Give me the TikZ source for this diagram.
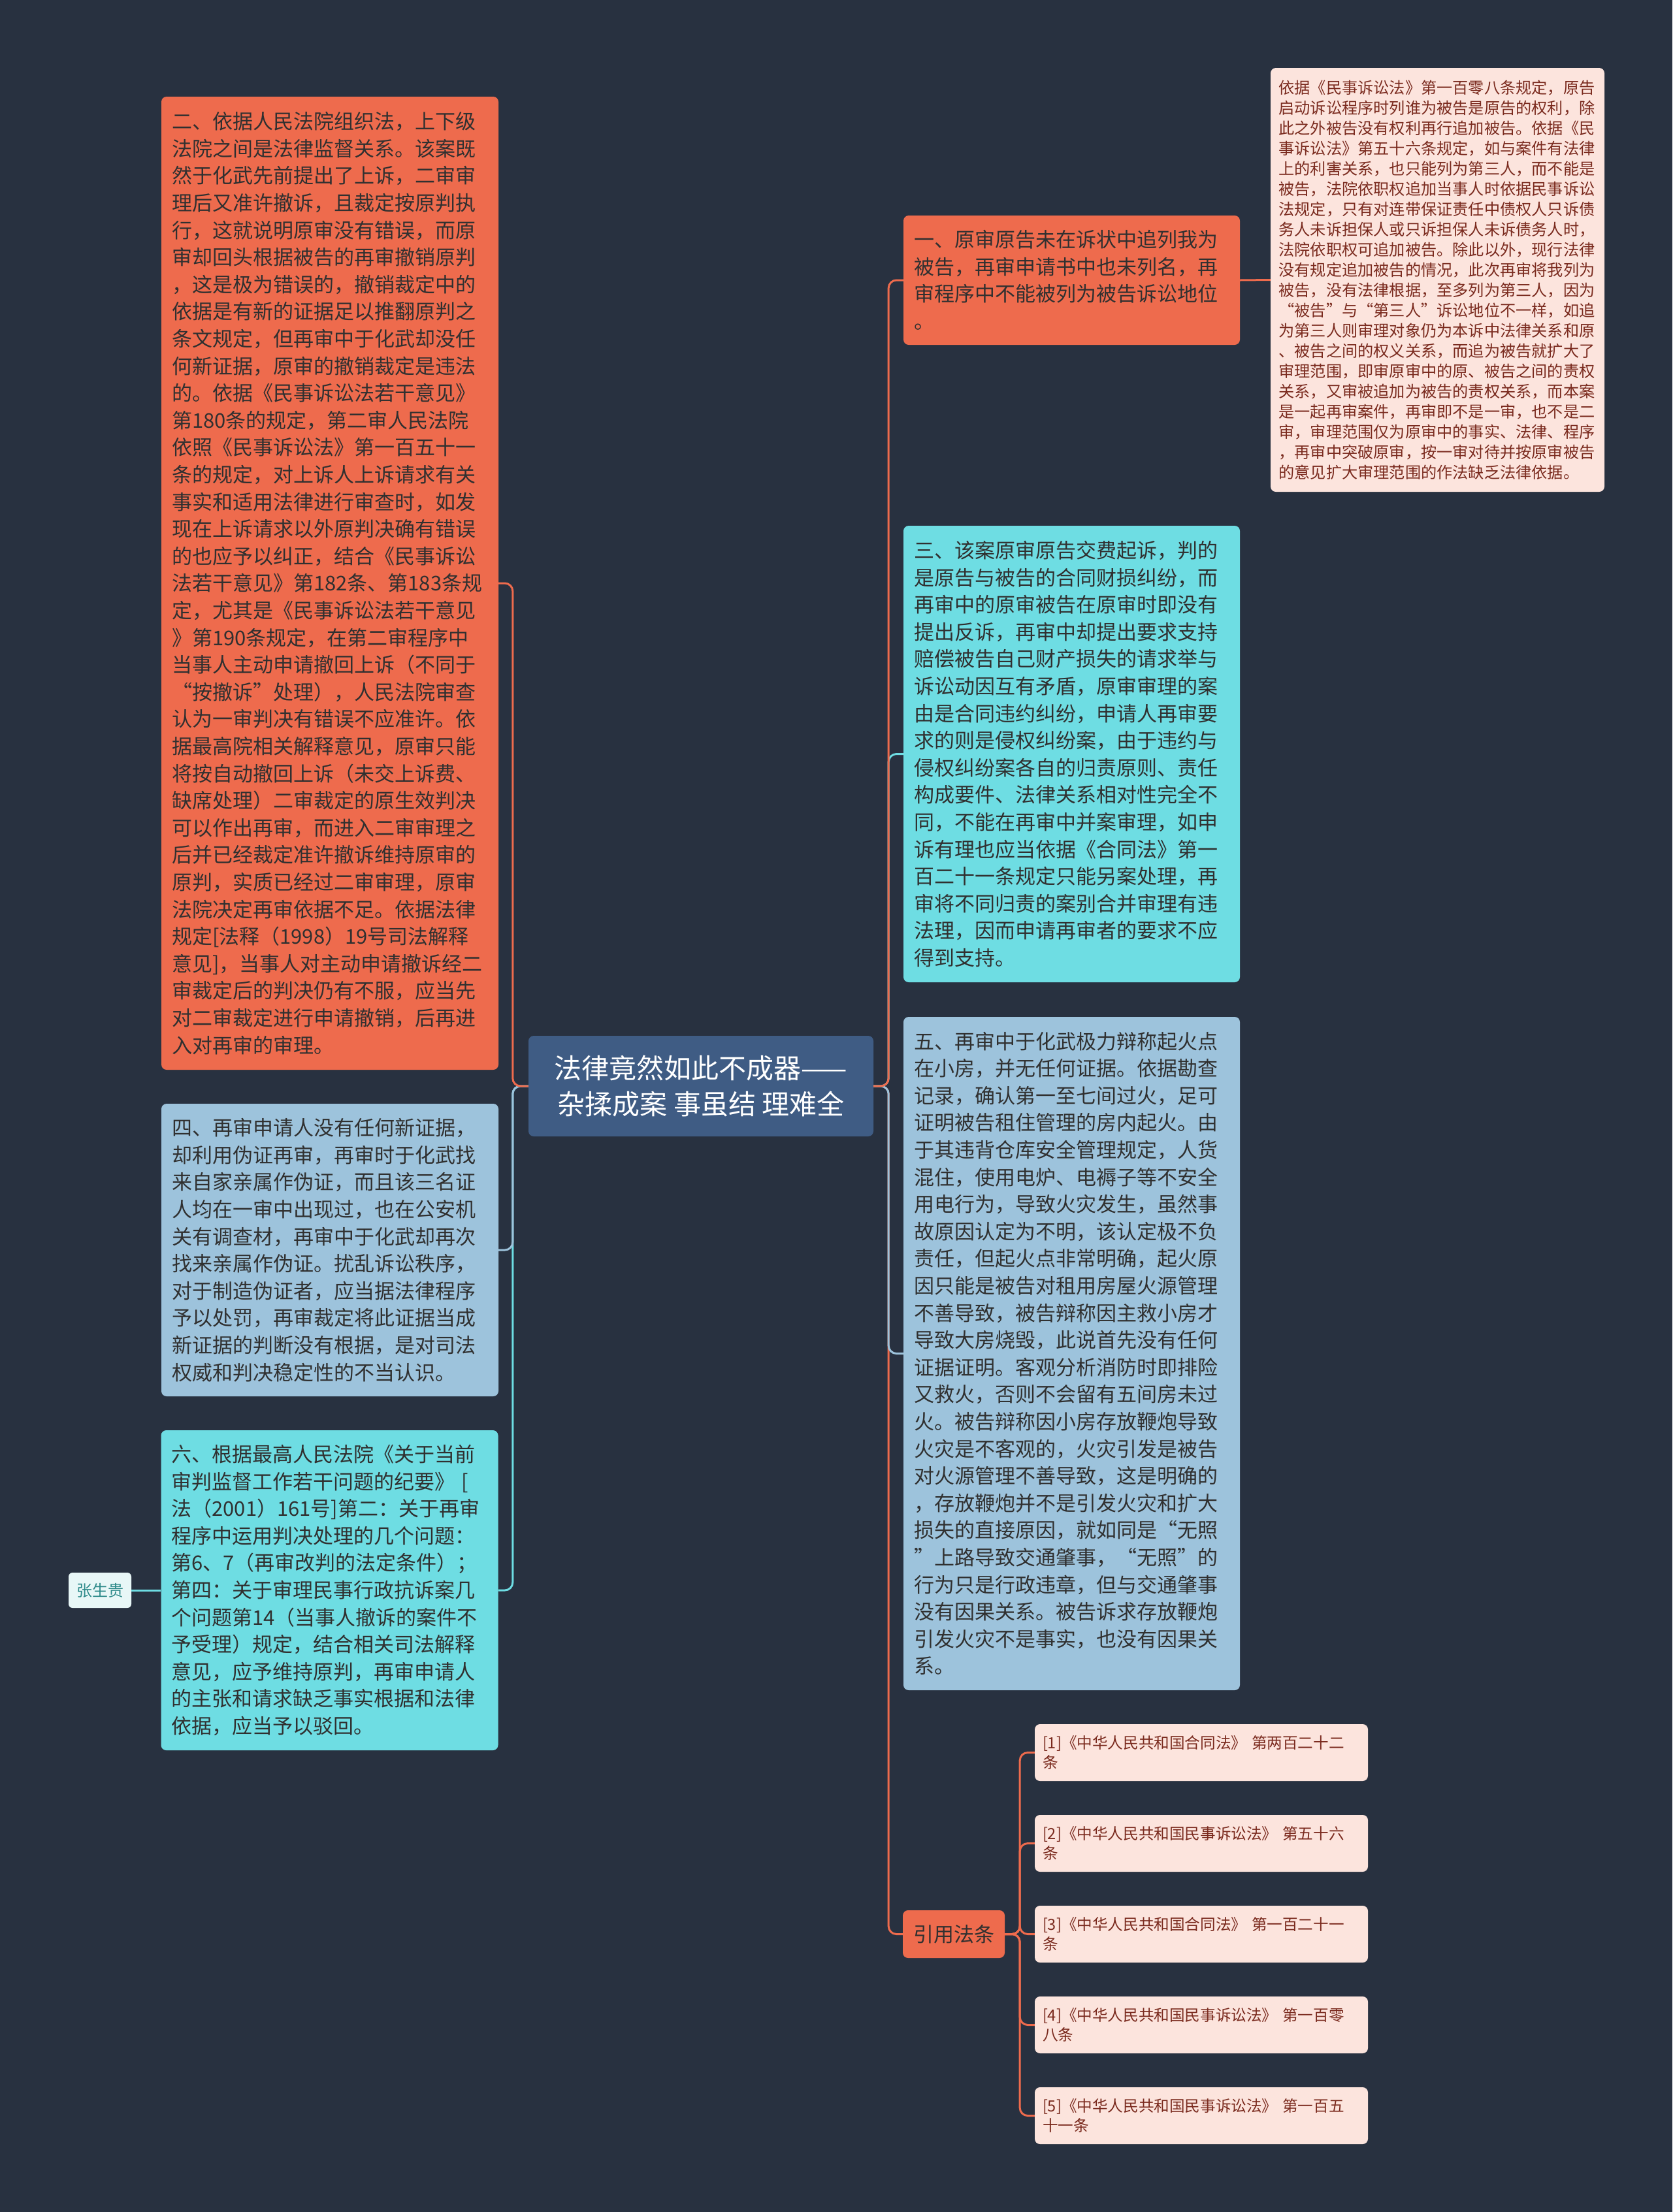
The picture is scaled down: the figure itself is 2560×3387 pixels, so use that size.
\documentclass[tikz,border=0pt]{standalone}
\usepackage{fontspec}
\setmainfont{Noto Sans CJK SC}
\usepackage{tikz}
\usepackage{xcolor}
\definecolor{bgc}{HTML}{283140}
\definecolor{orng}{HTML}{EE6B4D}
\definecolor{cyn}{HTML}{6EDDE3}
\definecolor{lblu}{HTML}{9DC3DC}
\definecolor{pnk}{HTML}{FCE4DD}
\definecolor{rootc}{HTML}{3F5C84}
\definecolor{dtxt}{HTML}{303030}
\definecolor{rtxt}{HTML}{7A2A1E}
\definecolor{tltxt}{HTML}{2D8A8A}
\definecolor{whc}{HTML}{E8F7F7}
\tikzset{
  box/.style={rounded corners=8pt, align=left, text=dtxt, inner xsep=16pt, inner ysep=0pt,
    font=\fontsize{31}{41.6}\selectfont, text width=484pt},
  smallbox/.style={rounded corners=8pt, align=left, fill=pnk, text=rtxt, inner xsep=12.5pt, inner ysep=0pt,
    font=\fontsize{24.2}{31}\selectfont, text width=486pt},
  link/.style={line width=3pt, rounded corners=12pt}
}

\begin{document}
\begin{tikzpicture}[x=1pt,y=1pt]
  \useasboundingbox (0,0) rectangle (2560,-3387);
  \fill[bgc] (0,0) rectangle (2560,-3387);
  \node[fill=rootc, text=white, rounded corners=8pt, align=center, font=\fontsize{42}{55}\selectfont,
    minimum width=528pt, minimum height=154pt, inner sep=0pt] (R) at (1073,-1663)
    {法律竟然如此不成器——\\杂揉成案 事虽结 理难全};
  \node[box, fill=orng, minimum height=198pt, text width=483pt] (A) at (1640.5,-429) {一、原审原告未在诉状中追列我为\\被告，再审申请书中也未列名，再\\审程序中不能被列为被告诉讼地位\\。};
  \node[box, fill=cyn, minimum height=699pt, text width=483pt] (B) at (1640.5,-1154.5) {三、该案原审原告交费起诉，判的\\是原告与被告的合同财损纠纷，而\\再审中的原审被告在原审时即没有\\提出反诉，再审中却提出要求支持\\赔偿被告自己财产损失的请求举与\\诉讼动因互有矛盾，原审审理的案\\由是合同违约纠纷，申请人再审要\\求的则是侵权纠纷案，由于违约与\\侵权纠纷案各自的归责原则、责任\\构成要件、法律关系相对性完全不\\同，不能在再审中并案审理，如申\\诉有理也应当依据《合同法》第一\\百二十一条规定只能另案处理，再\\审将不同归责的案别合并审理有违\\法理，因而申请再审者的要求不应\\得到支持。};
  \node[box, fill=lblu, minimum height=1031pt, text width=483pt] (C) at (1640.5,-2072.5) {五、再审中于化武极力辩称起火点\\在小房，并无任何证据。依据勘查\\记录，确认第一至七间过火，足可\\证明被告租住管理的房内起火。由\\于其违背仓库安全管理规定，人货\\混住，使用电炉、电褥子等不安全\\用电行为，导致火灾发生，虽然事\\故原因认定为不明，该认定极不负\\责任，但起火点非常明确，起火原\\因只能是被告对租用房屋火源管理\\不善导致，被告辩称因主救小房才\\导致大房烧毁，此说首先没有任何\\证据证明。客观分析消防时即排险\\又救火，否则不会留有五间房未过\\火。被告辩称因小房存放鞭炮导致\\火灾是不客观的，火灾引发是被告\\对火源管理不善导致，这是明确的\\，存放鞭炮并不是引发火灾和扩大\\损失的直接原因，就如同是“无照\\”上路导致交通肇事，“无照”的\\行为只是行政违章，但与交通肇事\\没有因果关系。被告诉求存放鞭炮\\引发火灾不是事实，也没有因果关\\系。};
  \node[box, fill=orng, minimum height=1490pt] (D) at (505,-893) {二、依据人民法院组织法，上下级\\法院之间是法律监督关系。该案既\\然于化武先前提出了上诉，二审审\\理后又准许撤诉，且裁定按原判执\\行，这就说明原审没有错误，而原\\审却回头根据被告的再审撤销原判\\，这是极为错误的，撤销裁定中的\\依据是有新的证据足以推翻原判之\\条文规定，但再审中于化武却没任\\何新证据，原审的撤销裁定是违法\\的。依据《民事诉讼法若干意见》\\第180条的规定，第二审人民法院\\依照《民事诉讼法》第一百五十一\\条的规定，对上诉人上诉请求有关\\事实和适用法律进行审查时，如发\\现在上诉请求以外原判决确有错误\\的也应予以纠正，结合《民事诉讼\\法若干意见》第182条、第183条规\\定，尤其是《民事诉讼法若干意见\\》第190条规定，在第二审程序中\\当事人主动申请撤回上诉（不同于\\“按撤诉”处理），人民法院审查\\认为一审判决有错误不应准许。依\\据最高院相关解释意见，原审只能\\将按自动撤回上诉（未交上诉费、\\缺席处理）二审裁定的原生效判决\\可以作出再审，而进入二审审理之\\后并已经裁定准许撤诉维持原审的\\原判，实质已经过二审审理，原审\\法院决定再审依据不足。依据法律\\规定[法释（1998）19号司法解释\\意见]，当事人对主动申请撤诉经二\\审裁定后的判决仍有不服，应当先\\对二审裁定进行申请撤销，后再进\\入对再审的审理。};
  \node[box, fill=lblu, minimum height=448pt] (E) at (505,-1914) {四、再审申请人没有任何新证据，\\却利用伪证再审，再审时于化武找\\来自家亲属作伪证，而且该三名证\\人均在一审中出现过，也在公安机\\关有调查材，再审中于化武却再次\\找来亲属作伪证。扰乱诉讼秩序，\\对于制造伪证者，应当据法律程序\\予以处罚，再审裁定将此证据当成\\新证据的判断没有根据，是对司法\\权威和判决稳定性的不当认识。};
  \node[box, fill=cyn, minimum height=490pt] (F) at (504.5,-2435) {六、根据最高人民法院《关于当前\\审判监督工作若干问题的纪要》 [\\法（2001）161号]第二：关于再审\\程序中运用判决处理的几个问题：\\第6、7（再审改判的法定条件）；\\第四：关于审理民事行政抗诉案几\\个问题第14（当事人撤诉的案件不\\予受理）规定，结合相关司法解释\\意见，应予维持原判，再审申请人\\的主张和请求缺乏事实根据和法律\\依据，应当予以驳回。};
  \node[smallbox, minimum height=649pt] (G) at (2200.5,-428.5) {依据《民事诉讼法》第一百零八条规定，原告\\启动诉讼程序时列谁为被告是原告的权利，除\\此之外被告没有权利再行追加被告。依据《民\\事诉讼法》第五十六条规定，如与案件有法律\\上的利害关系，也只能列为第三人，而不能是\\被告，法院依职权追加当事人时依据民事诉讼\\法规定，只有对连带保证责任中债权人只诉债\\务人未诉担保人或只诉担保人未诉债务人时，\\法院依职权可追加被告。除此以外，现行法律\\没有规定追加被告的情况，此次再审将我列为\\被告，没有法律根据，至多列为第三人，因为\\“被告”与“第三人”诉讼地位不一样，如追\\为第三人则审理对象仍为本诉中法律关系和原\\、被告之间的权义关系，而追为被告就扩大了\\审理范围，即审原审中的原、被告之间的责权\\关系，又审被追加为被告的责权关系，而本案\\是一起再审案件，再审即不是一审，也不是二\\审，审理范围仅为原审中的事实、法律、程序\\，再审中突破原审，按一审对待并按原审被告\\的意见扩大审理范围的作法缺乏法律依据。};
  \node[fill=whc, text=tltxt, rounded corners=6pt, font=\fontsize{24}{30}\selectfont,
    minimum width=96pt, minimum height=54pt, inner sep=0pt] (H) at (153,-2435) {张生贵};
  \node[fill=orng, text=dtxt, rounded corners=8pt, font=\fontsize{31}{40}\selectfont,
    minimum width=156pt, minimum height=73pt, inner sep=0pt] (L) at (1460,-2961.5) {引用法条};
  \foreach \t [count=\i] in {{[1]《中华人民共和国合同法》 第两百二十二\\条},
      {[2]《中华人民共和国民事诉讼法》 第五十六\\条},
      {[3]《中华人民共和国合同法》 第一百二十一\\条},
      {[4]《中华人民共和国民事诉讼法》 第一百零\\八条},
      {[5]《中华人民共和国民事诉讼法》 第一百五\\十一条}}{
    \node[smallbox, font=\fontsize{23.6}{30.7}\selectfont, text width=486pt, inner xsep=12pt,
      minimum height=87pt] (L\i) at (1839,{-2683.5-139*(\i-1)}) {\t};
    \draw[link, orng] (L.east) -- ++(23,0) |- (L\i.west);
  }
  \draw[link, orng] (R.east) -- ++(23,0) |- (L.west);
  \draw[link, lblu] (R.east) -- ++(23,0) |- (C.west);
  \draw[link, cyn] (R.east) -- ++(23,0) |- (B.west);
  \draw[link, orng] (R.east) -- ++(23,0) |- (A.west);
  \draw[link, cyn] (R.west) -- ++(-24,0) |- (F.east);
  \draw[link, lblu] (R.west) -- ++(-24,0) |- (E.east);
  \draw[link, orng] (R.west) -- ++(-24,0) |- (D.east);
  \draw[link, orng] (A.east) -- (G.west);
  \draw[link, cyn] (H.east) -- (F.west);
\end{tikzpicture}
\end{document}
